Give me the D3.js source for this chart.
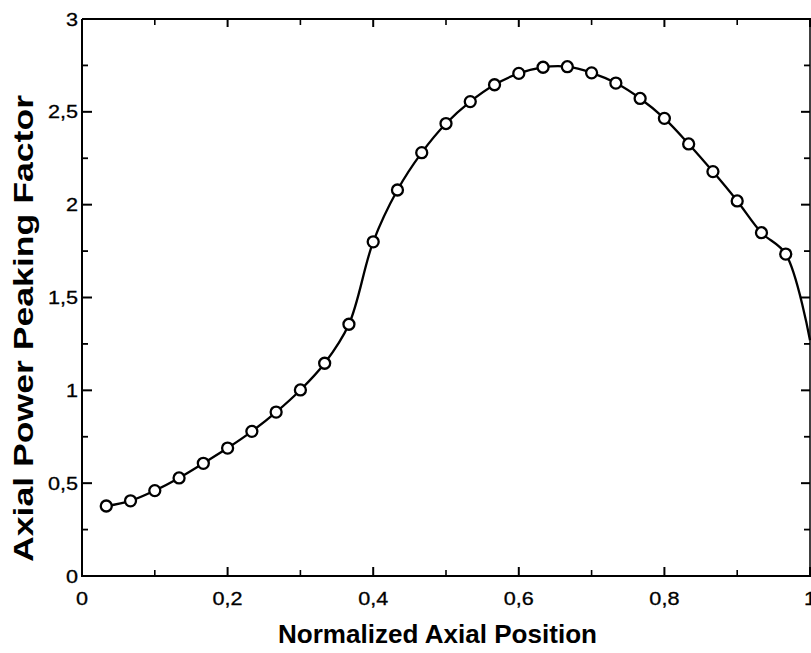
<!DOCTYPE html>
<html><head><meta charset="utf-8">
<script src="https://cdn.jsdelivr.net/npm/d3@7"></script>
<style>body{margin:0;background:#fff;}svg{display:block;}</style>
</head><body>
<svg id="c" width="811" height="653"></svg>
<script>
// Data
const positions = [1/30,2/30,3/30,4/30,5/30,6/30,7/30,8/30,9/30,10/30,11/30,12/30,13/30,14/30,15/30,16/30,17/30,18/30,19/30,20/30,21/30,22/30,23/30,24/30,25/30,26/30,27/30,28/30,29/30];
const peaking = [0.377,0.405,0.46,0.528,0.607,0.689,0.779,0.883,1.002,1.146,1.356,1.80,2.079,2.28,2.437,2.555,2.646,2.707,2.74,2.743,2.71,2.655,2.572,2.465,2.327,2.178,2.02,1.849,1.734];
const tailX = [1.0];
const tailY = [1.27];
const xTicks = [0,0.2,0.4,0.6,0.8,1.0];
const xTickLabels = ["0","0,2","0,4","0,6","0,8","1"];
const yTicks = [0,0.5,1,1.5,2,2.5,3];
const yTickLabels = ["0","0,5","1","1,5","2","2,5","3"];
const xMinor = [0.1,0.3,0.5,0.7,0.9];
const yMinor = [0.25,0.75,1.25,1.75,2.25,2.75];

const svg = d3.select("#c");
const x = d3.scaleLinear().domain([0,1]).range([82,810]);
const y = d3.scaleLinear().domain([0,3]).range([576,19]);
const font = "'Liberation Sans', Arial, sans-serif";

// frame
const g = svg.append("g").attr("stroke","#000").attr("fill","none");
g.append("line").attr("x1",x(0)).attr("x2",x(0)).attr("y1",y(0)+1).attr("y2",y(3)).attr("stroke-width",2);
g.append("line").attr("x1",x(0)).attr("x2",x(1)+1).attr("y1",y(0)).attr("y2",y(0)).attr("stroke-width",2);
g.append("line").attr("x1",x(0)).attr("x2",x(1)+1).attr("y1",y(3)).attr("y2",y(3)).attr("stroke-width",1.8);
g.append("line").attr("x1",x(1)).attr("x2",x(1)).attr("y1",y(3)).attr("y2",y(0)).attr("stroke-width",1.5);

// ticks
yTicks.forEach(v=>{
  g.append("line").attr("x1",x(0)).attr("x2",x(0)+10).attr("y1",y(v)).attr("y2",y(v)).attr("stroke-width",2);
  g.append("line").attr("x1",x(1)).attr("x2",x(1)-9).attr("y1",y(v)).attr("y2",y(v)).attr("stroke-width",2);
});
yMinor.forEach(v=>{
  g.append("line").attr("x1",x(0)).attr("x2",x(0)+6).attr("y1",y(v)).attr("y2",y(v)).attr("stroke-width",1.8);
  g.append("line").attr("x1",x(1)).attr("x2",x(1)-6).attr("y1",y(v)).attr("y2",y(v)).attr("stroke-width",1.8);
});
xTicks.forEach(v=>{
  g.append("line").attr("x1",x(v)).attr("x2",x(v)).attr("y1",y(0)).attr("y2",y(0)-9).attr("stroke-width",2);
  g.append("line").attr("x1",x(v)).attr("x2",x(v)).attr("y1",y(3)).attr("y2",y(3)+8).attr("stroke-width",2);
});
xMinor.forEach(v=>{
  g.append("line").attr("x1",x(v)).attr("x2",x(v)).attr("y1",y(0)).attr("y2",y(0)-6).attr("stroke-width",1.6);
  g.append("line").attr("x1",x(v)).attr("x2",x(v)).attr("y1",y(3)).attr("y2",y(3)+6).attr("stroke-width",1.6);
});

// tick labels
yTicks.forEach((v,i)=>{
  svg.append("text").attr("transform",`translate(78,${y(v)+6.5}) scale(1.17,1)`)
    .attr("text-anchor","end").attr("font-family",font).attr("font-size",18.5).attr("fill","#000")
    .attr("stroke","#000").attr("stroke-width",0.3)
    .text(yTickLabels[i]);
});
xTicks.forEach((v,i)=>{
  svg.append("text").attr("transform",`translate(${x(v)},605) scale(1.17,1)`)
    .attr("text-anchor","middle").attr("font-family",font).attr("font-size",18.5).attr("fill","#000")
    .attr("stroke","#000").attr("stroke-width",0.3)
    .text(xTickLabels[i]);
});

// titles
svg.append("text").attr("x",437.5).attr("y",643).attr("text-anchor","middle")
  .attr("font-family",font).attr("font-weight","bold").attr("font-size",25).attr("fill","#000")
  .attr("textLength",319).attr("lengthAdjust","spacingAndGlyphs")
  .text("Normalized Axial Position");
svg.append("text").attr("transform","translate(33,328.5) rotate(-90)").attr("text-anchor","middle")
  .attr("font-family",font).attr("font-weight","bold").attr("font-size",28).attr("fill","#000")
  .attr("textLength",467).attr("lengthAdjust","spacingAndGlyphs")
  .text("Axial Power Peaking Factor");

// curve
const pts = positions.map((p,i)=>[p,peaking[i]]).concat(tailX.map((p,i)=>[p,tailY[i]]));
const line = d3.line().x(d=>x(d[0])).y(d=>y(d[1])).curve(d3.curveCatmullRom.alpha(0.5));
svg.append("path").datum(pts).attr("d",line).attr("fill","none").attr("stroke","#000").attr("stroke-width",2.3);

svg.selectAll("circle.m").data(positions).enter().append("circle").attr("class","m")
  .attr("cx",d=>x(d)).attr("cy",(d,i)=>y(peaking[i])).attr("r",5.5)
  .attr("fill","#fff").attr("stroke","#000").attr("stroke-width",2.3);
</script>
</body></html>
